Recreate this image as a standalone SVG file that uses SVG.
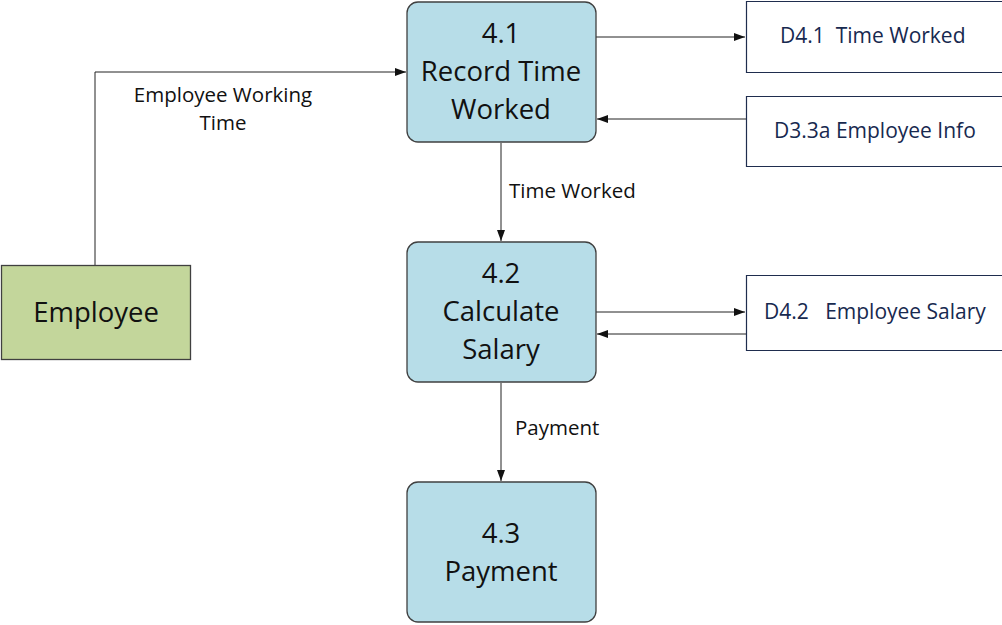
<svg xmlns="http://www.w3.org/2000/svg" width="1002" height="625" viewBox="0 0 1002 625">
<style>
.proc{fill:#b7dde8;stroke:#404040;stroke-width:1.3}
.ent{fill:#c3d69b;stroke:#404040;stroke-width:1.3}
.store{fill:#ffffff;stroke:#1f2d4e;stroke-width:1.2}
.pt{font-family:"Open Sans","Liberation Sans",sans-serif;font-size:27.5px;fill:#111;text-anchor:middle}
.st{font-family:"Open Sans","Liberation Sans",sans-serif;font-size:21px;fill:#17294f}
.lbl{font-family:"Open Sans","Liberation Sans",sans-serif;font-size:20.5px;fill:#111}
.conn{fill:none;stroke:#222;stroke-width:1}
</style>
<defs>
<marker id="arr" markerWidth="12" markerHeight="10" refX="11" refY="5" orient="auto" markerUnits="userSpaceOnUse">
<path d="M0,1 L11,5 L0,9 Z" fill="#111"/>
</marker>
</defs>
<rect width="1002" height="625" fill="#ffffff"/>
<g id="connectors">
<path class="conn" d="M95,265 V72 H406" marker-end="url(#arr)"/>
<path class="conn" d="M596,37 H745" marker-end="url(#arr)"/>
<path class="conn" d="M746,119 H597" marker-end="url(#arr)"/>
<path class="conn" d="M501,143 V241" marker-end="url(#arr)"/>
<path class="conn" d="M596,312 H745" marker-end="url(#arr)"/>
<path class="conn" d="M746,334 H597" marker-end="url(#arr)"/>
<path class="conn" d="M501,383 V481" marker-end="url(#arr)"/>
<text class="lbl" x="223" y="102" text-anchor="middle">Employee Working</text>
<text class="lbl" x="223" y="130" text-anchor="middle">Time</text>
<text class="lbl" x="509" y="198">Time Worked</text>
<text class="lbl" x="515" y="435">Payment</text>
</g>
<g id="p41">
<rect class="proc" x="407" y="2" width="189" height="140" rx="11"/>
<text class="pt" x="501" y="43">4.1</text>
<text class="pt" x="501" y="81">Record Time</text>
<text class="pt" x="501" y="119">Worked</text>
</g>
<g id="p42">
<rect class="proc" x="407" y="242" width="189" height="140" rx="11"/>
<text class="pt" x="501" y="283">4.2</text>
<text class="pt" x="501" y="321">Calculate</text>
<text class="pt" x="501" y="359">Salary</text>
</g>
<g id="p43">
<rect class="proc" x="407" y="482" width="189" height="140" rx="11"/>
<text class="pt" x="501" y="543">4.3</text>
<text class="pt" x="501" y="581">Payment</text>
</g>
<g id="employee">
<rect class="ent" x="1.5" y="265.5" width="189" height="94"/>
<text class="pt" x="96" y="322" font-size="29.5">Employee</text>
</g>
<g id="d41">
<path class="store" d="M1003,1.5 H746.5 V72.5 H1003"/>
<text class="st" x="780" y="43" xml:space="preserve">D4.1  Time Worked</text>
</g>
<g id="d33a">
<path class="store" d="M1003,96.5 H746.5 V166.5 H1003"/>
<text class="st" x="774" y="138">D3.3a Employee Info</text>
</g>
<g id="d42">
<path class="store" d="M1003,275.5 H746.5 V350.5 H1003"/>
<text class="st" x="764" y="319" xml:space="preserve">D4.2   Employee Salary</text>
</g>
</svg>
